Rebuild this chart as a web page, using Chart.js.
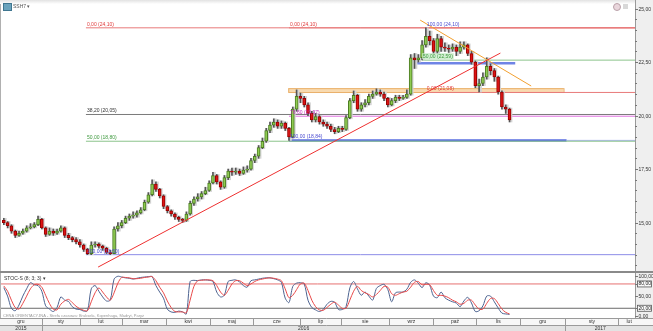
<!DOCTYPE html>
<html>
<head>
<meta charset="utf-8">
<script src="https://cdn.jsdelivr.net/npm/chart.js@4.4.0/dist/chart.umd.min.js"></script>
<style>
html, body { margin: 0; padding: 0; background: #fff; width: 653px; height: 331px; overflow: hidden; font-family: "Liberation Sans", Arial, sans-serif; }
#main { position: absolute; left: 0; top: 0; }
#stoch { position: absolute; left: 0; top: 271px; }
#topbar { position: absolute; left: 0; top: 0; width: 635px; height: 4px; background: linear-gradient(#e2e2e2, #ffffff); }
#icon { position: absolute; left: 3px; top: 3px; width: 7px; height: 6px; background: #6aa3bd; border: 1px solid #3f7690; }
#tag { position: absolute; left: 13px; top: 3px; font-size: 5px; color: #555; }
#ico1 { position: absolute; left: 613px; top: 3px; width: 6px; height: 6px; border-radius: 50%; background: #e9d6dc; border: 1px solid #b9a0a8; }
#ico2 { position: absolute; left: 623px; top: 4px; width: 5px; height: 5px; background: #d8d8d8; }
</style>
</head>
<body>
<canvas id="main" width="653" height="272"></canvas>
<canvas id="stoch" width="653" height="60"></canvas>
<div id="topbar"></div>
<div id="icon"></div>
<div id="tag">SSH7 ▾</div>
<div id="ico1"></div>
<div id="ico2"></div>
<script>
// Price data (one candle per index)
const firstOpen = 15.1;
const closes = [15.0,14.85,14.6,14.4,14.5,14.6,14.75,14.8,14.9,15.15,
  14.75,14.45,14.6,14.5,14.6,14.75,14.4,14.3,14.2,14.1,
  13.95,13.75,13.55,13.95,14.0,13.9,13.8,13.6,13.55,14.7,
  14.85,15.0,15.2,15.3,15.35,15.45,15.6,15.95,16.3,16.8,
  16.55,16.25,15.75,15.55,15.4,15.25,15.15,15.1,15.4,15.9,
  16.1,16.2,16.35,16.5,16.85,17.2,16.9,16.65,17.1,17.4,
  17.35,17.4,17.3,17.45,17.5,17.9,18.1,18.5,18.8,19.3,
  19.55,19.7,19.5,19.65,19.4,19.0,20.3,20.9,20.8,20.5,
  20.1,19.8,19.95,19.7,19.6,19.5,19.35,19.25,19.4,19.35,
  19.9,20.7,20.95,20.3,20.5,20.6,20.9,21.0,21.1,21.0,
  20.8,20.5,20.7,20.85,20.8,20.85,21.0,22.7,22.6,22.7,
  23.3,23.7,23.5,23.0,23.6,23.2,23.15,23.1,23.2,23.0,
  23.2,23.3,22.9,22.5,21.4,21.5,21.8,22.3,22.1,21.8,
  21.1,20.4,20.3,19.8];
const highs = [15.2,15.05,14.9,14.65,14.6,14.7,14.85,14.95,15.0,15.3,
  15.2,14.8,14.75,14.7,14.7,14.85,14.8,14.5,14.35,14.3,
  14.2,14.0,13.8,14.1,14.1,14.05,13.95,13.85,13.7,14.8,
  15.0,15.1,15.3,15.4,15.5,15.55,15.7,16.05,16.4,17.0,
  16.9,16.6,16.3,15.8,15.6,15.45,15.3,15.2,15.5,16.0,
  16.2,16.35,16.45,16.65,16.95,17.35,17.25,16.95,17.2,17.5,
  17.55,17.55,17.5,17.6,17.65,18.0,18.2,18.6,18.95,19.4,
  19.7,19.85,19.8,19.75,19.7,19.45,20.4,21.2,21.05,20.9,
  20.6,20.2,20.1,20.0,19.8,19.7,19.6,19.45,19.5,19.5,
  20.0,20.8,21.15,21.0,20.6,20.75,21.0,21.15,21.25,21.2,
  21.1,20.85,20.8,20.95,20.95,20.95,21.2,22.85,22.9,22.85,
  23.5,24.1,23.95,23.6,23.8,23.7,23.4,23.3,23.35,23.3,
  23.45,23.45,23.35,23.0,22.55,21.7,22.0,22.7,22.4,22.2,
  21.85,21.15,20.5,20.35];
const lows = [14.9,14.75,14.5,14.3,14.35,14.45,14.55,14.7,14.75,14.85,
  14.7,14.35,14.4,14.4,14.45,14.55,14.3,14.2,14.1,14.0,
  13.85,13.65,13.5,13.5,13.85,13.8,13.7,13.55,13.5,13.55,
  14.6,14.75,14.95,15.1,15.2,15.25,15.4,15.55,15.9,16.25,
  16.45,16.15,15.65,15.45,15.3,15.15,15.05,15.0,15.05,15.35,
  15.8,16.0,16.1,16.3,16.45,16.8,16.8,16.55,16.6,17.0,
  17.2,17.25,17.2,17.25,17.35,17.45,17.8,18.0,18.45,18.75,
  19.2,19.45,19.4,19.4,19.3,18.84,18.95,20.2,20.6,20.4,
  20.0,19.7,19.7,19.6,19.5,19.4,19.25,19.15,19.2,19.25,
  19.3,19.85,20.6,20.2,20.2,20.4,20.5,20.8,20.95,20.9,
  20.7,20.4,20.45,20.6,20.7,20.75,20.8,20.95,22.2,22.5,
  22.6,23.2,23.3,22.9,22.9,23.0,23.0,22.95,23.0,22.8,
  22.9,23.1,22.8,22.4,21.3,21.1,21.4,21.7,21.9,21.6,
  21.0,20.3,20.1,19.7];

// Stochastic (8;3;3)
const stochK = [71,50,20,14,28,50,68,83,78,76,
  62,26,18,12,22,48,40,37,24,18,
  17,13,14,68,76,62,48,38,40,92,
  99,97,95,94,92,94,96,97,98,98,
  76,60,45,18,11,10,13,11,6,86,
  89,88,90,90,89,86,60,48,52,86,
  89,90,85,76,72,88,90,92,94,95,
  95,93,90,84,45,34,74,82,83,80,
  40,22,16,12,17,30,37,35,17,17,
  24,70,86,68,52,60,50,40,69,76,
  79,66,36,58,60,60,67,84,90,82,
  71,83,77,50,46,60,46,40,36,33,
  24,38,47,33,12,14,26,50,50,36,
  21,8,6,5];
const stochD = [75,62,40,22,18,32,50,68,78,79,
  72,52,32,18,16,30,38,42,34,25,
  19,15,14,36,58,70,60,48,40,58,
  82,96,96,95,93,93,94,96,97,98,
  88,72,58,38,22,12,11,11,9,40,
  74,88,89,90,90,88,76,60,52,64,
  80,88,88,82,76,80,86,90,92,94,
  95,94,92,88,68,46,52,66,80,82,
  64,40,24,16,15,22,30,35,28,20,
  20,40,62,74,64,58,54,48,54,64,
  74,72,56,52,56,60,62,72,84,86,
  78,79,78,64,52,52,50,46,40,36,
  30,32,40,40,28,18,18,32,44,44,
  32,18,10,6];
const stochLevels = [80, 20];

// Axis ticks
const priceTicks = [15, 17.5, 20, 22.5, 25];
const stochTicks = [0, 20, 50, 80, 100];
const months = ['gru','sty','lut','mar','kwi','maj','cze','lip','sie','wrz','paź','lis','gru','sty','lut'];
const monthStarts = [-1, 10, 20, 31.1, 42.7, 54.3, 65.6, 78, 88.7, 101.4, 113, 124.3, 135.8, 147.7, 161.6];
const years = ['2015', '2016', '2017'];
const yearStarts = [-1, 10, 147.7];

// Fibonacci / drawn levels
const levelLabels = ['0,00 (24,10)', '38,20 (20,05)', '50,00 (18,80)', '100,00 (13,50)',
  '0,00 (24,10)', '78,60 (19,97)', '100,00 (18,84)',
  '100,00 (24,10)', '50,00 (22,59)', '0,00 (21,08)'];
const levelValues = [24.10, 20.05, 18.80, 13.50, 24.10, 19.97, 18.84, 24.10, 22.59, 21.08];
const levelFrom = [21.6, 21.6, 21.6, 21.6, 75, 75, 75, 111, 110, 111];
const levelTo = [166, 166, 166, 166, 166, 166, 148, 166, 166, 166];
const levelColors = ['#e87a7a', '#7a7a7a', '#8cc48c', '#8c8ce8', '#e87a7a', '#e070e0', '#5a6ee0', '#e87a7a', '#8cc48c', '#e87a7a'];
const levelText = ['#e03a3a', '#333333', '#3f9a3f', '#4a4ad0', '#e03a3a', '#c030c0', '#4a4ad0', '#4a4ad0', '#3f9a3f', '#e03a3a'];
const levelWidth = [1, 1, 1, 1, 1, 1, 2.5, 1, 1, 1];

// Support line and band
const supportValue = 22.45;
const supportRange = [108.7, 134.5];
const bandRange = [74.8, 147.2];
const bandValues = [21.10, 21.28];

// Trend lines [x, y]
const redTrend = [[24.8, 12.92], [130.6, 22.92]];
const orangeTrend = [[109.5, 24.46], [138.7, 21.38]];

const X_MIN = -1, X_MAX = 166;
const FONT = '"Liberation Sans", Arial, sans-serif';

const fmt = v => v.toFixed(2).replace('.', ',');
const opens = closes.map((c, i) => i === 0 ? firstOpen : closes[i - 1]);
const isUp = closes.map((c, i) => c >= opens[i]);

function hLine(value, from, to, color, width, order) {
    return {
        type: 'line',
        data: [{x: from, y: value}, {x: to, y: value}],
        borderColor: color,
        borderWidth: width,
        pointRadius: 0,
        order: order
    };
}

// right axis: grey strip, tick marks and labels drawn from the scale
function drawRightAxis(chart, values, labelFor) {
    const {ctx, chartArea} = chart;
    const ys = chart.scales.y;
    ctx.save();
    ctx.strokeStyle = '#999';
    ctx.beginPath();
    ctx.moveTo(chartArea.right + 0.5, 0);
    ctx.lineTo(chartArea.right + 0.5, chart.height);
    ctx.stroke();
    ctx.strokeStyle = '#777';
    ctx.font = '5px ' + FONT;
    ctx.fillStyle = '#333';
    ctx.textBaseline = 'middle';
    values.forEach(v => {
        const y = Math.round(ys.getPixelForValue(v)) + 0.5;
        const lbl = labelFor(v);
        ctx.beginPath();
        ctx.moveTo(chartArea.right, y);
        ctx.lineTo(chartArea.right + (lbl ? 3 : 2), y);
        ctx.stroke();
        if (lbl) ctx.fillText(lbl, chartArea.right + 3.5, y);
    });
    ctx.restore();
}

// Main chart plugins
const mainDecor = {
    id: 'mainDecor',
    beforeDraw(chart) {
        const {ctx, chartArea} = chart;
        ctx.save();
        ctx.fillStyle = '#efefef';
        ctx.fillRect(chartArea.right, 0, chart.width - chartArea.right, chart.height);
        ctx.restore();
    },
    beforeDatasetsDraw(chart) {
        const {ctx} = chart;
        const xs = chart.scales.x, ys = chart.scales.y;
        const x1 = xs.getPixelForValue(bandRange[0]), x2 = xs.getPixelForValue(bandRange[1]);
        const y1 = ys.getPixelForValue(bandValues[1]), y2 = ys.getPixelForValue(bandValues[0]);
        ctx.save();
        ctx.fillStyle = 'rgba(245, 205, 150, 0.75)';
        ctx.fillRect(x1, y1, x2 - x1, y2 - y1);
        ctx.strokeStyle = '#eab06a';
        ctx.lineWidth = 1;
        ctx.strokeRect(x1 + 0.5, y1 + 0.5, x2 - x1, y2 - y1);
        ctx.restore();
    },
    afterDraw(chart) {
        const {ctx, chartArea} = chart;
        const xs = chart.scales.x, ys = chart.scales.y;
        const minor = [];
        for (let v = 13; v <= 25; v += 0.5) minor.push(v);
        drawRightAxis(chart, minor, v => priceTicks.includes(v) ? fmt(v) : '');
        ctx.save();
        ctx.font = '5px ' + FONT;
        ctx.textBaseline = 'bottom';
        levelLabels.forEach((t, k) => {
            const x = xs.getPixelForValue(levelFrom[k]) + 1;
            const y = ys.getPixelForValue(levelValues[k]) - 1;
            if (k === 8) {
                const w = ctx.measureText(t).width;
                ctx.fillStyle = 'rgba(200, 235, 200, 0.8)';
                ctx.fillRect(x - 1, y - 6, w + 2, 6);
            }
            ctx.fillStyle = levelText[k];
            ctx.fillText(t, x, y);
        });
        ctx.strokeStyle = '#b0b0b0';
        ctx.beginPath();
        ctx.moveTo(0.5, 4);
        ctx.lineTo(0.5, chartArea.bottom);
        ctx.stroke();
        ctx.restore();
    }
};

const datasets = [
    {
        type: 'bar',
        data: closes.map((c, i) => ({x: i + 0.4, y: [lows[i], highs[i]]})),
        backgroundColor: '#d4d4d4',
        barThickness: 2,
        grouped: false,
        order: 30
    },
    {
        type: 'bar',
        data: closes.map((c, i) => ({x: i, y: [lows[i], highs[i]]})),
        backgroundColor: '#555555',
        barThickness: 1,
        grouped: false,
        order: 20
    },
    {
        type: 'bar',
        data: closes.map((c, i) => ({x: i, y: [opens[i], c]})),
        backgroundColor: isUp.map(u => u ? '#8fcb52' : '#dd1414'),
        borderColor: isUp.map(u => u ? '#4c7d22' : '#9a0000'),
        borderWidth: 1,
        borderSkipped: false,
        barThickness: 3,
        grouped: false,
        order: 10
    },
    hLine(supportValue, supportRange[0], supportRange[1], '#6f84e6', 2.5, 35),
    {
        type: 'line',
        data: redTrend.map(p => ({x: p[0], y: p[1]})),
        borderColor: '#ee3030',
        borderWidth: 1,
        pointRadius: 0,
        order: 2
    },
    {
        type: 'line',
        data: orangeTrend.map(p => ({x: p[0], y: p[1]})),
        borderColor: '#f2a030',
        borderWidth: 1,
        pointRadius: 0,
        order: 1
    }
];
levelValues.forEach((v, k) => {
    datasets.push(hLine(v, levelFrom[k], levelTo[k], levelColors[k], levelWidth[k], 40));
});
datasets.push(hLine(18.84, 148, 166, '#aab4f0', 1, 41));

new Chart(document.getElementById('main'), {
    type: 'bar',
    data: {datasets: datasets},
    options: {
        responsive: false,
        animation: false,
        layout: {padding: 0},
        plugins: {legend: {display: false}, tooltip: {enabled: false}},
        scales: {
            x: {type: 'linear', min: X_MIN, max: X_MAX, display: false, offset: false},
            y: {
                position: 'right',
                min: 12.69,
                max: 25.4,
                afterFit: s => { s.width = 18; },
                grid: {display: false},
                border: {display: false},
                ticks: {display: false}
            }
        }
    },
    plugins: [mainDecor]
});

// Stochastic panel + date strip
const stochDecor = {
    id: 'stochDecor',
    beforeDraw(chart) {
        const {ctx, chartArea} = chart;
        ctx.save();
        ctx.fillStyle = '#efefef';
        ctx.fillRect(chartArea.right, 0, chart.width - chartArea.right, chart.height);
        ctx.restore();
    },
    afterDraw(chart) {
        const {ctx, chartArea} = chart;
        const xs = chart.scales.x, ys = chart.scales.y;
        const W = chart.width;
        drawRightAxis(chart, stochTicks, v => stochLevels.includes(v) ? '' : fmt(v));
        ctx.save();
        // top border of panel
        ctx.fillStyle = '#8a8a8a';
        ctx.fillRect(0, 0, W, 2);
        // left border
        ctx.strokeStyle = '#b0b0b0';
        ctx.beginPath(); ctx.moveTo(0.5, 2); ctx.lineTo(0.5, chartArea.bottom); ctx.stroke();
        // indicator title and caption
        ctx.font = '5px ' + FONT;
        ctx.fillStyle = '#333';
        ctx.textBaseline = 'middle';
        ctx.fillText('STOC-S (8; 3; 3) ▾', 4, 8);
        ctx.font = '4px ' + FONT;
        ctx.fillStyle = '#9a9a9a';
        ctx.textBaseline = 'bottom';
        ctx.fillText('CENA ORIENTACYJNA - Strefa czasowa: Bruksela, Kopenhaga, Madryt, Paryż', 3, chartArea.bottom);
        // boxes on 80 / 20 labels
        ctx.strokeStyle = '#555';
        ctx.lineWidth = 0.8;
        stochLevels.forEach(v => {
            const y = ys.getPixelForValue(v);
            ctx.fillStyle = '#fafafa';
            ctx.fillRect(chartArea.right + 2.5, y - 3, 14, 6);
            ctx.strokeRect(chartArea.right + 2.5, y - 3, 14, 6);
            ctx.fillStyle = '#222';
            ctx.font = '5px ' + FONT;
            ctx.textBaseline = 'middle';
            ctx.fillText(fmt(v), chartArea.right + 3.5, y);
        });
        // date strip
        const top = chartArea.bottom;
        ctx.fillStyle = '#f7f7f7';
        ctx.fillRect(0, top, W, 7);
        ctx.fillStyle = '#e3e3e3';
        ctx.fillRect(0, top + 7, W, 6);
        ctx.strokeStyle = '#9a9a9a';
        ctx.lineWidth = 1;
        ctx.beginPath();
        ctx.moveTo(0, top + 0.5); ctx.lineTo(W, top + 0.5);
        ctx.moveTo(0, top + 7.5); ctx.lineTo(W, top + 7.5);
        ctx.stroke();
        ctx.font = '5px ' + FONT;
        ctx.fillStyle = '#333';
        ctx.textAlign = 'center';
        ctx.textBaseline = 'middle';
        months.forEach((m, k) => {
            const a = xs.getPixelForValue(monthStarts[k]);
            const b = k + 1 < months.length ? xs.getPixelForValue(monthStarts[k + 1]) : chartArea.right + 5;
            if (k > 0) {
                ctx.beginPath();
                ctx.moveTo(Math.round(a) + 0.5, top);
                ctx.lineTo(Math.round(a) + 0.5, top + 7);
                ctx.stroke();
            }
            ctx.fillText(m, Math.max((a + b) / 2, 8), top + 4);
        });
        years.forEach((y, k) => {
            const a = xs.getPixelForValue(yearStarts[k]);
            const b = k + 1 < years.length ? xs.getPixelForValue(yearStarts[k + 1]) : W - 18;
            if (k > 0) {
                ctx.beginPath();
                ctx.moveTo(Math.round(a) + 0.5, top + 7);
                ctx.lineTo(Math.round(a) + 0.5, top + 13);
                ctx.stroke();
            }
            ctx.fillText(y, Math.max((a + b) / 2, 10), top + 10.5);
        });
        ctx.restore();
    }
};

new Chart(document.getElementById('stoch'), {
    type: 'line',
    data: {
        datasets: [
            {
                data: stochK.map((v, i) => ({x: i, y: v})),
                borderColor: '#4d6390',
                borderWidth: 1,
                pointRadius: 0,
                tension: 0.3,
                order: 2
            },
            {
                data: stochD.map((v, i) => ({x: i, y: v})),
                borderColor: '#e84a4a',
                borderWidth: 1,
                pointRadius: 0,
                tension: 0.3,
                order: 1
            },
            hLine(stochLevels[0], X_MIN, X_MAX, '#e67070', 1, 5),
            hLine(stochLevels[1], X_MIN, X_MAX, '#6a6a6a', 1, 5)
        ]
    },
    options: {
        responsive: false,
        animation: false,
        layout: {padding: {top: 2, bottom: 13}},
        plugins: {legend: {display: false}, tooltip: {enabled: false}},
        scales: {
            x: {type: 'linear', min: X_MIN, max: X_MAX, display: false},
            y: {
                position: 'right',
                min: -4,
                max: 107,
                afterFit: s => { s.width = 18; },
                grid: {display: false},
                border: {display: false},
                ticks: {display: false}
            }
        }
    },
    plugins: [stochDecor]
});
</script>
</body>
</html>
